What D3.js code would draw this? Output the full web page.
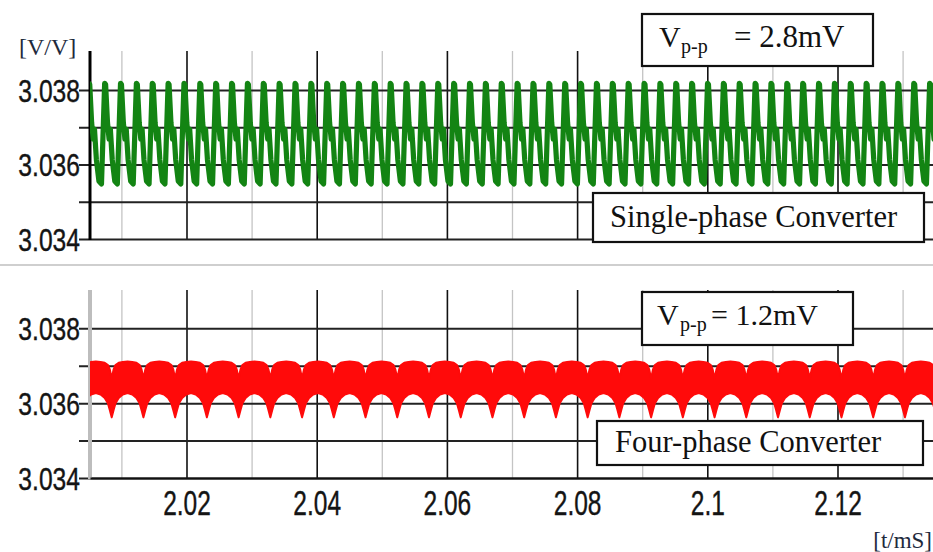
<!DOCTYPE html>
<html>
<head>
<meta charset="utf-8">
<script src="https://cdn.jsdelivr.net/npm/d3@7"></script>
<style>
  html, body { margin: 0; padding: 0; background: #fff; }
  svg { display: block; }
</style>
</head>
<body>
<svg id="chart" width="933" height="552"></svg>
<script>
// ---------------- DATA ----------------
const xMajorTicks = [2.02, 2.04, 2.06, 2.08, 2.1, 2.12];
const xTickLabels = ["2.02", "2.04", "2.06", "2.08", "2.1", "2.12"];
const xMinorTicks = [2.01, 2.03, 2.05, 2.07, 2.09, 2.11, 2.13];
const yGridValues = [3.034, 3.035, 3.036, 3.037, 3.038];
const yLabelValues = [3.034, 3.036, 3.038];
const yTickLabels = ["3.034", "3.036", "3.038"];
const xDomain = [2.005177, 2.13467];          // t [ms]
const yDomain = [3.034, 3.038];               // [V/V]

// single-phase converter ripple: one switching cycle (phase fraction -> voltage)
const greenPeriod = 0.002437;                 // ms
const greenStart = 2.00694;                   // ms, trough of first cycle
const greenPhase = [0.00, 0.20, 0.26, 0.38, 0.48, 0.56, 0.68, 0.84];
const greenVolt  = [3.03548, 3.03818, 3.03815, 3.03712, 3.03668, 3.03695, 3.03612, 3.03555];

// four-phase converter ripple: one envelope cycle (phase fraction -> band edges)
const redPeriod = 0.004874;                   // ms
const redStart = 2.00851;                     // ms, first cusp
const redPhase = [0.00, 0.06, 0.12, 0.22, 0.35, 0.50, 0.65, 0.78, 0.88, 0.94, 1.00];
const redUpper = [3.03666, 3.03690, 3.03702, 3.03708, 3.03710, 3.03711, 3.03710, 3.03708, 3.03702, 3.03690, 3.03666];
const redLower = [3.03562, 3.03582, 3.03600, 3.03614, 3.03623, 3.03627, 3.03623, 3.03614, 3.03600, 3.03582, 3.03562];

const annotations = [
  { panel: 0, sub: "p-p", value: "= 2.8mV" },
  { panel: 0, label: "Single-phase Converter" },
  { panel: 1, sub: "p-p", value: "= 1.2mV" },
  { panel: 1, label: "Four-phase Converter" }
];

// ---------------- LAYOUT ----------------
const svg = d3.select("#chart");
const W = 933;
const plotLeft = 90, plotRight = 933, gridLeft = 79;
const panels = [
  { top: 51, y0: 239, y1: 90.0, axisColor: "#000", axisWidth: 3 },
  { top: 290, y0: 478, y1: 328.3, axisColor: "#bdbdbd", axisWidth: 4 }
];

const x = d3.scaleLinear().domain(xDomain).range([plotLeft, plotRight]);

svg.append("defs").append("clipPath").attr("id", "plotclip")
  .append("rect").attr("x", plotLeft).attr("y", 0).attr("width", plotRight - plotLeft).attr("height", 552);

// separator between panels
svg.append("line").attr("x1", 0).attr("x2", W).attr("y1", 265).attr("y2", 265)
  .attr("stroke", "#cfcfcf").attr("stroke-width", 2);

function squeeze(sel, factor) {
  sel.each(function () {
    const len = this.getComputedTextLength();
    d3.select(this).attr("textLength", len * factor).attr("lengthAdjust", "spacingAndGlyphs");
  });
}

panels.forEach((p, pi) => {
  const y = d3.scaleLinear().domain(yDomain).range([p.y0, p.y1]);
  p.y = y;
  const g = svg.append("g");

  // minor vertical grid (light gray)
  const minorAxis = d3.axisBottom(x).tickValues(xMinorTicks).tickSize(-(p.y0 - p.top)).tickFormat("");
  g.append("g").attr("transform", `translate(0,${p.y0})`).call(minorAxis)
    .call(s => s.select(".domain").remove())
    .call(s => s.selectAll("line").attr("stroke", "#c4c4c4").attr("stroke-width", 1.3));

  // major vertical grid (black)
  const majorAxis = d3.axisBottom(x).tickValues(xMajorTicks).tickSize(-(p.y0 - p.top)).tickFormat("");
  g.append("g").attr("transform", `translate(0,${p.y0})`).call(majorAxis)
    .call(s => s.select(".domain").remove())
    .call(s => s.selectAll("line").attr("stroke", "#111").attr("stroke-width", 1.6));

  // horizontal grid with left tick stubs
  const yAxis = d3.axisLeft(y).tickValues(yGridValues).tickSize(-(plotRight - gridLeft)).tickFormat("");
  g.append("g").attr("transform", `translate(${gridLeft},0)`).call(yAxis)
    .call(s => s.select(".domain").remove())
    .call(s => s.selectAll("line").attr("stroke", "#222").attr("stroke-width", 2));

  // left axis line
  g.append("line").attr("x1", plotLeft).attr("x2", plotLeft).attr("y1", p.top).attr("y2", p.y0 + 1)
    .attr("stroke", p.axisColor).attr("stroke-width", p.axisWidth);

  // y labels
  const yl = g.append("g").selectAll("text").data(yLabelValues).join("text")
    .attr("x", 80).attr("y", d => y(d) + 11.5)
    .attr("text-anchor", "end")
    .attr("font-family", "'Liberation Sans', Arial, sans-serif")
    .attr("font-size", 32).attr("fill", "#141414")
    .attr("stroke", "#141414").attr("stroke-width", 0.4)
    .text((d, i) => yTickLabels[i]);
  squeeze(yl, 0.77);
});

// bottom axis line + x labels
const bottomAxis = d3.axisBottom(x).tickValues(xMajorTicks).tickSize(0)
  .tickFormat((d, i) => xTickLabels[i]).tickPadding(12);
const bx = svg.append("g").attr("transform", `translate(0,${panels[1].y0})`).call(bottomAxis);
bx.select(".domain").attr("stroke", "#111").attr("stroke-width", 2);
bx.selectAll("text")
  .attr("font-family", "'Liberation Sans', Arial, sans-serif")
  .attr("font-size", 35).attr("fill", "#141414")
  .attr("stroke", "#141414").attr("stroke-width", 0.4).attr("dy", "0.7em");
squeeze(bx.selectAll("text"), 0.7);

// ---------------- TRACES ----------------
// single-phase (green)
const greenPts = [];
const nG = Math.ceil((xDomain[1] - greenStart) / greenPeriod) + 1;
for (let k = -1; k <= nG; k++) {
  greenPhase.forEach((ph, i) => {
    greenPts.push({ t: greenStart + (k + ph) * greenPeriod, v: greenVolt[i] });
  });
}
const yT = panels[0].y;
svg.append("path").datum(greenPts)
  .attr("clip-path", "url(#plotclip)")
  .attr("fill", "none").attr("stroke", "#138413").attr("stroke-width", 5.2)
  .attr("stroke-linejoin", "round").attr("stroke-linecap", "round")
  .attr("d", d3.line().x(d => x(d.t)).y(d => yT(d.v)));

// four-phase (red band)
const redPts = [];
const nR = Math.ceil((xDomain[1] - redStart) / redPeriod) + 1;
for (let k = -1; k <= nR; k++) {
  redPhase.forEach((ph, i) => {
    if (i === redPhase.length - 1) return;
    redPts.push({ t: redStart + (k + ph) * redPeriod, lo: redLower[i], hi: redUpper[i] });
  });
}
const yB = panels[1].y;
svg.append("path").datum(redPts)
  .attr("clip-path", "url(#plotclip)")
  .attr("fill", "#ff0a0a").attr("stroke", "#ff0a0a").attr("stroke-width", 2)
  .attr("stroke-linejoin", "round")
  .attr("d", d3.area().x(d => x(d.t)).y0(d => yB(d.lo)).y1(d => yB(d.hi)));

// ---------------- ANNOTATION BOXES ----------------
const serif = "'Liberation Serif', 'Times New Roman', serif";
function box(x0, y0, x1, y1) {
  svg.append("rect").attr("x", x0).attr("y", y0).attr("width", x1 - x0).attr("height", y1 - y0)
    .attr("fill", "#fff").attr("stroke", "#111").attr("stroke-width", 2.2);
}
// Vp-p = 2.8mV
box(642, 14, 873, 66);
let t1 = svg.append("text").attr("font-family", serif).attr("fill", "#111").attr("y", 47);
t1.append("tspan").attr("x", 659).attr("font-size", 30).text("V");
t1.append("tspan").attr("x", 681).attr("dy", 6).attr("font-size", 20).text(annotations[0].sub);
t1.append("tspan").attr("x", 734).attr("dy", -6).attr("font-size", 31).text(annotations[0].value);

box(593, 193, 924, 242);
svg.append("text").attr("font-family", serif).attr("fill", "#111").attr("font-size", 30.5)
  .attr("x", 610).attr("y", 227).text(annotations[1].label);

// Vp-p = 1.2mV
box(642, 292, 853, 345);
let t2 = svg.append("text").attr("font-family", serif).attr("fill", "#111").attr("y", 325);
t2.append("tspan").attr("x", 657).attr("font-size", 30).text("V");
t2.append("tspan").attr("x", 680).attr("dy", 6).attr("font-size", 20).text(annotations[2].sub);
t2.append("tspan").attr("x", 711).attr("dy", -6).attr("font-size", 30).text(annotations[2].value);

box(597, 421, 923, 465);
svg.append("text").attr("font-family", serif).attr("fill", "#111").attr("font-size", 30.5)
  .attr("x", 615).attr("y", 452).text(annotations[3].label);

// units
svg.append("text").attr("font-family", serif).attr("fill", "#1e2a3c").attr("font-size", 24)
  .attr("x", 19).attr("y", 55).text("[V/V]");
svg.append("text").attr("font-family", serif).attr("fill", "#1e2a3c").attr("font-size", 23)
  .attr("x", 932).attr("y", 548).attr("text-anchor", "end").text("[t/mS]");
</script>
</body>
</html>
